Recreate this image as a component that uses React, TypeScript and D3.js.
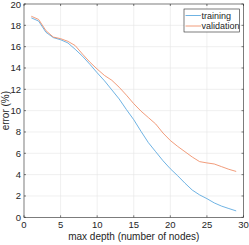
import React, { useEffect, useRef } from 'react';
import * as d3 from 'd3';

const depths = [1, 2, 3, 4, 5, 6, 7, 8, 9, 10, 11, 12, 13, 14, 15, 16, 17, 18, 19, 20, 21, 22, 23, 24, 25, 26, 27, 28, 29];
const trainingErr = [18.7, 18.4, 17.35, 16.85, 16.65, 16.35, 15.75, 15.1, 14.35, 13.55, 12.8, 11.95, 11.1, 10.1, 9.15, 8.05, 7.0, 6.15, 5.3, 4.55, 3.9, 3.2, 2.55, 2.1, 1.75, 1.35, 1.05, 0.82, 0.6];
const validationErr = [18.85, 18.55, 17.5, 16.9, 16.75, 16.5, 16.1, 15.3, 14.55, 13.9, 13.3, 12.85, 12.2, 11.45, 10.65, 9.95, 9.35, 8.75, 7.9, 7.2, 6.65, 6.15, 5.65, 5.22, 5.1, 5.0, 4.75, 4.5, 4.3];
const xTicks = [0, 5, 10, 15, 20, 25, 30];
const yTicks = [0, 2, 4, 6, 8, 10, 12, 14, 16, 18, 20];
const seriesNames = ['training', 'validation'];

const W = 249;
const H = 245;
const FONT = '"Liberation Sans", Arial, sans-serif';

const App = () => {
  const ref = useRef<SVGSVGElement>(null);

  useEffect(() => {
    const svg = d3.select(ref.current);
    svg.selectAll('*').remove();

    // plot box in page pixels
    const left = 24, right = 243.5, top = 4, bottom = 217.3;
    const x = d3.scaleLinear().domain([0, 30]).range([left, right]);
    const y = d3.scaleLinear().domain([0, 20]).range([bottom, top]);

    svg.append('rect')
      .attr('width', W).attr('height', H).attr('fill', 'white');

    // grid
    const grid = svg.append('g').attr('stroke', '#e6e6e6').attr('stroke-width', 0.6);
    grid.selectAll('line.gx').data(xTicks.slice(1, -1)).join('line')
      .attr('x1', d => x(d)).attr('x2', d => x(d)).attr('y1', top).attr('y2', bottom);
    grid.selectAll('line.gy').data(yTicks.slice(1, -1)).join('line')
      .attr('x1', left).attr('x2', right).attr('y1', d => y(d)).attr('y2', d => y(d));

    // lines
    const colors = ['#4a9fdc', '#ee8359'];
    const series = [trainingErr, validationErr];
    const line = d3.line<number>().x((d, i) => x(depths[i])).y(d => y(d));
    series.forEach((s, k) => {
      svg.append('path')
        .datum(s)
        .attr('fill', 'none')
        .attr('stroke', colors[k])
        .attr('stroke-width', 0.8)
        .attr('d', line);
    });

    // axes box
    svg.append('rect')
      .attr('x', left).attr('y', top)
      .attr('width', right - left).attr('height', bottom - top)
      .attr('fill', 'none').attr('stroke', '#262626').attr('stroke-width', 0.6);

    const tickLen = 2;
    const ticks = svg.append('g').attr('stroke', '#262626').attr('stroke-width', 0.6);
    xTicks.forEach(t => {
      ticks.append('line').attr('x1', x(t)).attr('x2', x(t)).attr('y1', bottom).attr('y2', bottom - tickLen);
      ticks.append('line').attr('x1', x(t)).attr('x2', x(t)).attr('y1', top).attr('y2', top + tickLen);
    });
    yTicks.forEach(t => {
      ticks.append('line').attr('x1', left).attr('x2', left + tickLen).attr('y1', y(t)).attr('y2', y(t));
      ticks.append('line').attr('x1', right).attr('x2', right - tickLen).attr('y1', y(t)).attr('y2', y(t));
    });

    svg.append('g')
      .selectAll('text').data(xTicks).join('text')
      .attr('x', d => x(d)).attr('y', bottom + 11)
      .attr('text-anchor', 'middle')
      .attr('font-family', FONT).attr('font-size', 9.5).attr('fill', '#262626')
      .text(d => d);

    svg.append('g')
      .selectAll('text').data(yTicks).join('text')
      .attr('x', left - 3).attr('y', d => y(d) + 3.5)
      .attr('text-anchor', 'end')
      .attr('font-family', FONT).attr('font-size', 9.5).attr('fill', '#262626')
      .text(d => d);

    svg.append('text')
      .attr('x', (left + right) / 2).attr('y', 240)
      .attr('text-anchor', 'middle')
      .attr('font-family', FONT).attr('font-size', 10).attr('fill', '#262626')
      .text('max depth (number of nodes)');

    svg.append('text')
      .attr('transform', `translate(8.5,${(top + bottom) / 2}) rotate(-90)`)
      .attr('text-anchor', 'middle')
      .attr('font-family', FONT).attr('font-size', 10).attr('fill', '#262626')
      .text('error (%)');

    // legend
    const lg = svg.append('g');
    lg.append('rect')
      .attr('x', 184).attr('y', 9).attr('width', 55.5).attr('height', 23)
      .attr('fill', 'white').attr('stroke', '#262626').attr('stroke-width', 0.6);
    seriesNames.forEach((name, k) => {
      const yy = 15.5 + k * 10.5;
      lg.append('line')
        .attr('x1', 185.5).attr('x2', 201).attr('y1', yy).attr('y2', yy)
        .attr('stroke', colors[k]).attr('stroke-width', 0.8);
      lg.append('text')
        .attr('x', 201.5).attr('y', yy + 3.3)
        .attr('font-family', FONT).attr('font-size', 9).attr('fill', '#262626')
        .text(name);
    });
  }, []);

  return <svg ref={ref} width={W} height={H} style={{ position: 'absolute', left: 0, top: 0 }} />;
};

export default App;
